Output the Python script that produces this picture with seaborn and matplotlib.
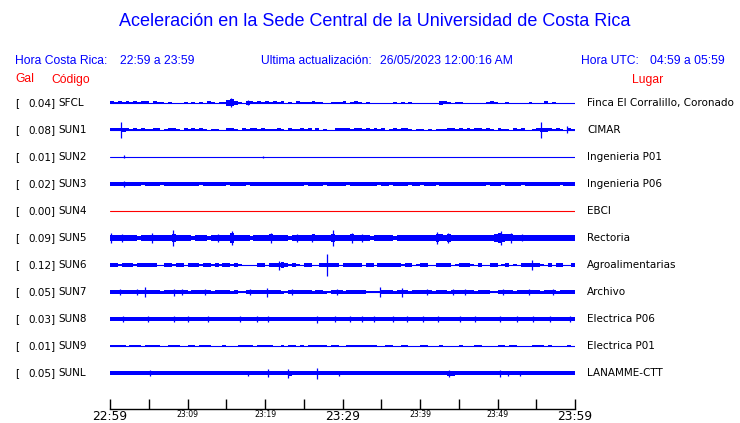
import numpy as np
import pandas as pd
import matplotlib
matplotlib.use("Agg")
import matplotlib.pyplot as plt
import matplotlib.transforms as mtransforms
import seaborn as sns

sns.set_theme(style="white")
plt.rcParams['font.family'] = ['DejaVu Sans']

# ---------------- data ----------------
title = "Aceleración en la Sede Central de la Universidad de Costa Rica"
hora_cr = "22:59 a 23:59"
hora_utc = "04:59 a 05:59"
actualizacion = "26/05/2023 12:00:16 AM"

codes = ["SFCL", "SUN1", "SUN2", "SUN3", "SUN4", "SUN5",
         "SUN6", "SUN7", "SUN8", "SUN9", "SUNL"]
peaks = [0.04, 0.08, 0.01, 0.02, 0.00, 0.09, 0.12, 0.05, 0.03, 0.01, 0.05]
places = ["Finca El Corralillo, Coronado", "CIMAR", "Ingenieria P01",
          "Ingenieria P06", "EBCI", "Rectoria", "Agroalimentarias",
          "Archivo", "Electrica P06", "Electrica P01", "LANAMME-CTT"]
trace_colors = ["#0000ff"] * 4 + ["#ff0000"] + ["#0000ff"] * 6

tick_minutes = [0, 10, 20, 30, 40, 50, 60]
tick_labels = ["22:59", "23:09", "23:19", "23:29", "23:39", "23:49", "23:59"]
big_labels = ["22:59", "23:29", "23:59"]

# envelope half-amplitude of each trace, one value every 30 s (display units)
env_SFCL = [1.5, 1, 1.5, 1, 1.5, 1, 1.5, 1, 1.5, 1.5,
            0, 1.5, 1, 1, 0, 1, 0, 0, 0, 1,
            0, 1, 0, 1, 0, 1.5, 1, 0, 1, 1,
            3, 3.5, 2, 1, 0, 2, 1.5, 1, 1.5, 1,
            1.5, 1, 1.5, 1, 1.5, 0, 1, 0, 1.5, 1,
            1, 1, 1.5, 1, 1, 0, 0, 1, 1, 1,
            1.5, 0, 1, 1.5, 1, 0, 1, 0, 0, 0,
            0, 0, 0, 1, 0, 1, 0, 1, 0, 0,
            0, 0, 0, 0, 0, 2, 1.5, 1, 0, 1,
            1, 0, 0, 0, 0, 0, 0, 1, 1.5, 1,
            0, 0, 1, 0, 0, 0, 0, 0, 1, 0,
            0, 0, 1.5, 0, 1, 0, 0, 0, 0, 0]
env_SUN1 = [1.5, 1.5, 1.5, 2, 1.5, 1, 1.5, 1, 1.5, 1,
            1, 1.5, 1.5, 0, 1, 1.5, 1.5, 1, 0, 1.5,
            1, 1.5, 1, 1.5, 1, 0, 1, 1, 0, 0,
            1.5, 1.5, 1, 0, 1.5, 1, 1.5, 1.5, 1, 1.5,
            1, 1, 1, 1.5, 1, 0, 1.5, 1, 1, 1.5,
            1, 1.5, 0, 1.5, 0, 1, 0, 0, 1.5, 1.5,
            1.5, 1.5, 1, 1.5, 1.5, 1, 1.5, 1, 1.5, 1,
            1.5, 0, 1, 1.5, 1, 1.5, 1.5, 1, 0, 1,
            1, 0, 1, 0, 1, 1, 1, 1.5, 1.5, 1,
            1.5, 1, 1.5, 1, 1.5, 1.5, 1, 1.5, 1, 0,
            1.5, 1, 1, 0, 1.5, 1, 1.5, 0, 0, 1,
            1.5, 2, 2, 1.5, 1, 1.5, 1, 0, 1.5, 1]
env_SUN2 = [0.0] * 120
env_SUN3 = [1.7, 1.7, 1.7, 2, 1.7, 1.6, 1.7, 1.7, 1.5, 1.7,
            1.7, 1.7, 1.6, 1.5, 1.7, 1.7, 1.7, 1.7, 1.7, 1.6,
            1.7, 1.7, 1.7, 1.5, 1.7, 1.7, 1.7, 1.6, 1.7, 1.7,
            1.5, 1.7, 1.7, 1.6, 1.7, 1.5, 1.7, 1.7, 1.7, 1.6,
            1.7, 1.7, 1.7, 1.7, 1.7, 1.7, 1.7, 1.6, 1.7, 1.7,
            1.5, 1.7, 1.7, 1.7, 1.6, 1.5, 1.7, 1.7, 1.7, 1.7,
            1.7, 1.5, 1.7, 1.7, 1.7, 1.7, 1.7, 1.6, 1.7, 1.5,
            1.7, 1.7, 1.5, 1.7, 1.7, 1.7, 1.7, 1.5, 1.7, 1.7,
            1.5, 1.7, 1.7, 1.7, 1.5, 1.7, 1.7, 1.7, 1.6, 1.7,
            1.7, 1.7, 1.6, 1.7, 1.7, 1.7, 1.7, 1.5, 1.7, 1.7,
            1.7, 1.5, 1.7, 1.7, 1.7, 1.7, 1.5, 1.7, 1.7, 1.7,
            1.7, 1.6, 1.7, 1.7, 1.7, 1.7, 1.5, 1.7, 1.7, 1.7]
env_SUN4 = [0.0] * 120
env_SUN5 = [3, 2.8, 2.6, 3, 2.8, 2.6, 2.6, 2.3, 2.8, 2.6,
            3.2, 2.8, 2.6, 2.6, 2.8, 3.2, 4, 3.2, 2.8, 2.6,
            2.6, 2.3, 2.6, 2.8, 2.6, 2.3, 2.6, 2.8, 3.2, 2.8,
            3.2, 4.5, 3.2, 2.6, 2.8, 2.6, 2.3, 2.6, 2.8, 2.6,
            2.8, 3.5, 3.2, 2.6, 2.6, 2.8, 2.3, 2.6, 3.2, 2.6,
            2.8, 3.2, 3.5, 2.6, 2.8, 2.6, 3.2, 4, 3.2, 2.8,
            2.8, 2.6, 3.5, 2.8, 2.6, 3.2, 2.6, 2.3, 2.6, 2.6,
            2.8, 2.6, 2.6, 2.3, 2.6, 2.8, 2.6, 2.6, 2.8, 3.2,
            2.6, 2.6, 2.8, 2.6, 4, 3.5, 3.2, 4, 3.2, 2.8,
            2.6, 2.6, 2.8, 2.6, 2.6, 2.8, 2.6, 2.8, 3.2, 4,
            4.5, 4, 3.5, 3.5, 3.2, 2.8, 3.2, 2.8, 2.6, 2.6,
            2.8, 2.6, 2.6, 2.8, 2.6, 2.6, 2.8, 2.6, 2.6, 2.6]
env_SUN6 = [1.7, 1.7, 1.5, 1.7, 1.7, 1.7, 1.5, 1.7, 1.7, 1.7,
            1.7, 1.7, 0, 0, 1.7, 1.7, 1.5, 1.7, 1.7, 0,
            1.7, 1.7, 1.7, 1.5, 1.7, 1.7, 1.5, 1.7, 1.5, 1.7,
            1.7, 1.5, 1.7, 1, 0, 0, 0, 0, 1.7, 1.7,
            0, 1.7, 2, 2.5, 3, 2, 1.5, 1.7, 1.5, 0,
            1.7, 1.7, 0, 0, 1.7, 1.7, 2.5, 2, 1.7, 0,
            1.7, 1.7, 1.7, 1.7, 1.7, 0, 1.7, 1.7, 0, 1.7,
            1.7, 1.7, 1.7, 1.7, 1.7, 1.5, 1.7, 1.7, 0, 1.5,
            2, 2.5, 0, 0, 2.5, 2.5, 1.7, 1.7, 0, 1.5,
            1.7, 1.7, 1.7, 1.5, 0, 1.7, 0, 0, 1.7, 1.7,
            0, 1.5, 1.7, 0, 1.5, 0, 1.7, 2.5, 1.7, 2.5,
            1.7, 1.5, 0, 1.7, 0, 1.7, 1.7, 0, 0, 2.5]
env_SUN7 = [1.7, 2, 1.7, 1.7, 2, 1.7, 1.7, 1.7, 1.7, 2,
            1.7, 1.7, 1.7, 1.5, 1.7, 2, 2.2, 2, 1.7, 1.7,
            1.5, 1.7, 1.7, 1.7, 1.7, 1.7, 1.5, 1.7, 1.7, 1.7,
            1.7, 1.5, 1.7, 0.6, 0.6, 1.7, 1.7, 1.7, 1.7, 1.7,
            2, 2, 1.7, 1.7, 1.5, 0.6, 1.7, 1.7, 1.7, 1.7,
            1.7, 1.7, 1.5, 1.7, 1.7, 1.5, 0.6, 1.7, 2, 1.7,
            1.5, 1.7, 1.7, 1.7, 1.7, 1.7, 0.6, 0.8, 1, 0.8,
            1.7, 1.7, 1.7, 1.5, 1.7, 2, 1.7, 1.5, 1.7, 1.7,
            1.7, 1.7, 1.7, 1.5, 1.7, 1.7, 1.7, 1.5, 1.7, 1.7,
            1.7, 1.7, 1.7, 1.7, 1.5, 1.7, 1.7, 1.7, 0.6, 0.8,
            1.7, 1.7, 1.7, 1.7, 1.5, 1.7, 1.7, 1.7, 2, 1.7,
            1.7, 1.5, 1.7, 1.7, 1.7, 1.5, 1.7, 1.7, 1.7, 1.7]
env_SUN8 = [2, 2, 1.8, 2.2, 1.8, 2, 1.8, 2, 1.8, 1.8,
            1.8, 1.8, 1.8, 1.8, 1.8, 1.8, 2, 2, 1.8, 1.8,
            1.8, 1.8, 1.8, 1.8, 1.8, 2, 1.8, 1.8, 1.8, 1.8,
            1.8, 1.8, 1.8, 1.8, 1.8, 1.8, 1.8, 1.8, 1.8, 1.8,
            1.8, 1.8, 1.8, 1.8, 1.8, 2.3, 2.3, 2.3, 1.8, 1.8,
            1.8, 1.8, 1.8, 2.2, 1.8, 1.8, 1.8, 1.8, 1.8, 1.8,
            1.8, 1.8, 1.8, 1.8, 1.8, 1.8, 1.8, 1.8, 1.8, 1.8,
            1.8, 1.8, 1.8, 1.8, 1.8, 1.8, 1.8, 1.8, 1.8, 1.8,
            1.8, 1.8, 1.8, 1.8, 1.8, 1.8, 1.8, 1.8, 1.8, 1.8,
            1.8, 1.8, 1.8, 1.8, 1.8, 1.8, 1.8, 1.8, 1.8, 1.8,
            1.8, 1.8, 1.8, 1.8, 1.8, 1.8, 1.8, 1.8, 1.8, 1.8,
            1.8, 1.8, 1.8, 1.8, 1.8, 1.8, 1.8, 1.8, 1.8, 1.8]
env_SUN9 = [1.2, 1.2, 1.2, 1.2, 0, 1.2, 1.2, 1, 0, 1,
            1.2, 1, 1.2, 0, 0, 1.2, 1.2, 1, 0, 0,
            1.2, 1, 0, 1.2, 1.2, 1, 0, 0, 0, 1.2,
            0, 0, 0, 1.2, 1, 1.2, 1, 0, 1.2, 1.2,
            1, 1, 0, 0, 1.2, 0, 1, 1, 0, 1,
            0, 1, 1.2, 1.2, 1.2, 1, 0, 1.2, 1, 0,
            0, 1.2, 1, 1.2, 1, 1.2, 1.2, 1, 1.2, 0,
            0, 1.2, 1, 0, 0, 1.2, 1, 0, 0, 0,
            1.2, 1, 0, 0, 0, 1, 0, 0, 0, 0,
            1.2, 0, 0, 0, 1, 1, 0, 0, 0, 0,
            1.2, 1, 0, 1, 1.2, 0, 0, 0, 0, 1.2,
            1.2, 1, 0, 1, 0, 0, 0, 0, 1.2, 0]
env_SUNL = [2, 2.2, 2.2, 2, 1.7, 2, 1.7, 2, 2, 1.7,
            2.2, 1.7, 2, 1.7, 1.7, 2, 2, 1.7, 2.2, 1.7,
            2, 1.7, 1.7, 2, 1.7, 2, 2, 1.7, 1.7, 2,
            1.7, 2, 1.7, 2, 1.7, 2, 2, 1.7, 1.7, 2,
            2.2, 2, 2, 1.7, 1.7, 2.2, 2.5, 2, 1.7, 1.7,
            2, 2, 2, 2.2, 2.2, 2, 1.7, 2, 2, 2.2,
            2, 2, 1.7, 2, 2, 1.7, 2, 2, 2, 1.7,
            2, 2, 1.7, 1.7, 2, 2, 1.7, 2, 2, 1.7,
            2, 2, 1.7, 2, 1.7, 2, 1.7, 2.5, 2.5, 2,
            1.7, 2, 2, 1.7, 2, 1.7, 2, 1.7, 2, 2,
            2.2, 2, 2, 2, 1.7, 2, 2.2, 2, 1.7, 2,
            2, 1.7, 2, 1.7, 2, 2, 1.7, 2, 2, 2]

# isolated peaks: (minute, half-amplitude)
spk_SFCL = [(15.6, 4.5), (17.8, 2.5)]
spk_SUN1 = [(1.4, 8), (55.6, 8), (59.0, 3.5)]
spk_SUN2 = [(1.85, 1.5), (19.8, 1.0)]
spk_SUN3 = [(1.8, 3)]
spk_SUN4 = []
spk_SUN5 = [(0.1, 5), (1.5, 4), (5.4, 4.5), (8.15, 8), (13.9, 4), (15.7, 7),
            (20.8, 4.5), (24.1, 4), (26.0, 4), (28.8, 8), (31.2, 5),
            (32.5, 4), (42.25, 6), (43.6, 5), (50.4, 7), (51.8, 5), (53.1, 3.5)]
spk_SUN6 = [(21.8, 4.5), (28.05, 11), (54.5, 5)]
spk_SUN7 = [(1.3, 3), (3.45, 3), (4.5, 5), (8.3, 3.5), (9.25, 3), (12.25, 3),
            (18.05, 3), (20.2, 4.5), (23.45, 3), (29.25, 3), (34.85, 5),
            (37.65, 4.5), (40.85, 3), (44.3, 3), (45.8, 3), (50.75, 3),
            (54.0, 3), (57.2, 3)]
spk_SUN8 = [(1.7, 3), (4.95, 3), (8.25, 3), (10.1, 3), (12.7, 3), (16.75, 3),
            (18.95, 3), (20.45, 3), (26.65, 3.5), (29.0, 3), (31.0, 3),
            (32.5, 3), (34.0, 3), (36.55, 3), (38.3, 3), (40.45, 3),
            (42.35, 3), (45.15, 3), (47.1, 3), (50.3, 3), (52.5, 3),
            (54.6, 3), (56.75, 3), (59.35, 3)]
spk_SUN9 = []
spk_SUNL = [(5.15, 3), (17.85, 2.5), (20.45, 4), (23.0, 4.5), (26.65, 5.5),
            (29.5, 2.5), (43.8, 3.5), (50.3, 3.5), (51.4, 2.5), (52.9, 2.5)]

envelopes = [env_SFCL, env_SUN1, env_SUN2, env_SUN3, env_SUN4, env_SUN5,
             env_SUN6, env_SUN7, env_SUN8, env_SUN9, env_SUNL]
spikes = [spk_SFCL, spk_SUN1, spk_SUN2, spk_SUN3, spk_SUN4, spk_SUN5,
          spk_SUN6, spk_SUN7, spk_SUN8, spk_SUN9, spk_SUNL]
sample_step = 0.5      # minutes between envelope samples
duration = 60          # minutes shown

# ---------------- figure ----------------
W, H = 740, 423
BLUE = "#0000ff"
RED = "#ff0000"
fig = plt.figure(figsize=(W / 100, H / 100), dpi=100)
fig.patch.set_facecolor("white")

n = len(codes)
row_px = 27.0
ax = fig.add_axes([110 / W, 1 - 386.5 / H, 465 / W, (row_px * n) / H])
unit = 1.0 / row_px

# baselines via seaborn
base = pd.DataFrame({
    "t": [0, duration] * n,
    "row": [i for i in range(n) for _ in range(2)],
    "code": [c for c in codes for _ in range(2)],
})
sns.lineplot(data=base, x="t", y="row", hue="code", units="code",
             estimator=None, palette=dict(zip(codes, trace_colors)),
             legend=False, lw=0.8, ax=ax)
ax.set_xlim(0, duration)
ax.set_ylim(n - 0.5, -0.5)
ax.axis("off")

for i, (env, spk, col) in enumerate(zip(envelopes, spikes, trace_colors)):
    a = np.asarray(env, dtype=float) * unit
    edges = np.arange(len(a) + 1) * sample_step
    y = np.append(a, a[-1])
    ax.fill_between(edges, i - y, i + y, step="post", color=col, lw=0)
    if spk:
        t = [s[0] for s in spk]
        h = np.array([s[1] for s in spk]) * unit
        ax.vlines(t, i - h, i + h, color=col, lw=0.9)

# row labels
trans = mtransforms.blended_transform_factory(fig.transFigure, ax.transData)
for i in range(n):
    ax.text(15 / W, i, "[", transform=trans, ha="left", va="center",
            fontsize=7.5, color="black", clip_on=False)
    ax.text(55.5 / W, i, f"{peaks[i]:.2f}]", transform=trans, ha="right",
            va="center", fontsize=7.5, color="black", clip_on=False)
    ax.text(58.5 / W, i, codes[i], transform=trans, ha="left", va="center",
            fontsize=7.5, color="black", clip_on=False)
    ax.text(587 / W, i, places[i], transform=trans, ha="left", va="center",
            fontsize=7.5, color="black", clip_on=False)

# time axis
ax2 = fig.add_axes([110 / W, 1 - 409 / H, 465 / W, 14 / H])
ax2.set_facecolor("none")
ax2.set_xlim(0, duration)
ax2.set_ylim(0, 1)
for s in ["top", "left", "right"]:
    ax2.spines[s].set_visible(False)
ax2.spines["bottom"].set_color("black")
ax2.spines["bottom"].set_linewidth(1.0)
ax2.set_yticks([])
ax2.set_xticks(tick_minutes)
ax2.set_xticks([m + 5 for m in tick_minutes[:-1]], minor=True)
ax2.set_xticklabels(tick_labels)
ax2.tick_params(axis="x", which="both", direction="in", length=7, width=1,
                color="black", bottom=True, pad=1.0)
for lab in ax2.get_xticklabels():
    lab.set_fontsize(8.8 if lab.get_text() in big_labels else 5.6)
    lab.set_color("black")

# header
def ftext(x, y, s, color, size, ha="left"):
    fig.text(x / W, 1 - y / H, s, color=color, fontsize=size, ha=ha,
             va="center", family=["Liberation Sans", "DejaVu Sans"])

ftext(375, 22, title, BLUE, 13, ha="center")
ftext(15, 60.5, "Hora Costa Rica:", BLUE, 8.7)
ftext(120, 60.5, hora_cr, BLUE, 8.7)
ftext(261, 60.5, "Ultima actualización:", BLUE, 8.7)
ftext(380, 60.5, actualizacion, BLUE, 8.7)
ftext(581, 60.5, "Hora UTC:", BLUE, 8.7)
ftext(650, 60.5, hora_utc, BLUE, 8.7)
ftext(15, 79.5, "Gal", RED, 8.7)
ftext(51, 79.5, "Código", RED, 8.7)
ftext(632, 79.5, "Lugar", RED, 8.7)

fig.savefig("out.png", dpi=100, facecolor="white")
